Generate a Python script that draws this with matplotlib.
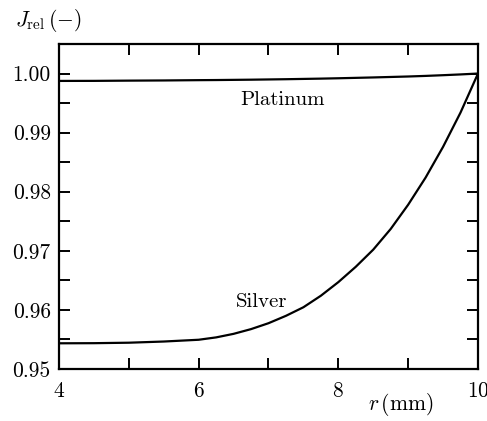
import matplotlib
matplotlib.use("Agg")
import matplotlib.pyplot as plt
from matplotlib.ticker import MultipleLocator, FormatStrFormatter

plt.rcParams["font.family"] = "serif"
plt.rcParams["font.serif"] = ["cmr10", "DejaVu Serif"]
plt.rcParams["mathtext.fontset"] = "cm"
plt.rcParams["axes.formatter.use_mathtext"] = True

# --- dados ---
r_mm = [4.0, 4.5, 5.0, 5.5, 6.0, 6.25, 6.5, 6.75, 7.0, 7.25, 7.5, 7.75,
        8.0, 8.25, 8.5, 8.75, 9.0, 9.25, 9.5, 9.75, 10.0]
silver = [0.95435, 0.95437, 0.95445, 0.95465, 0.95495, 0.95535, 0.95595, 0.95675,
          0.95775, 0.95900, 0.96045, 0.96240, 0.96470, 0.96730, 0.97020, 0.97370,
          0.97780, 0.98240, 0.98760, 0.99340, 1.00000]
platinum = [0.99875, 0.99876, 0.99880, 0.99883, 0.99888, 0.99890, 0.99893, 0.99896,
            0.99900, 0.99904, 0.99909, 0.99914, 0.99920, 0.99927, 0.99934, 0.99942,
            0.99950, 0.99960, 0.99972, 0.99985, 1.00000]

fig = plt.figure(figsize=(4.87, 4.21), dpi=100)
ax = fig.add_axes([0.1211, 0.1235, 0.8604, 0.772])

ax.plot(r_mm, platinum, color="black", lw=1.6)
ax.plot(r_mm, silver, color="black", lw=1.6)

ax.text(7.2, 0.99548, "Platinum", ha="center", va="center", fontsize=15)
ax.text(6.9, 0.96139, "Silver", ha="center", va="center", fontsize=15)

ax.set_xlim(4, 10)
ax.set_ylim(0.95, 1.005)
ax.xaxis.set_major_locator(MultipleLocator(2))
ax.xaxis.set_minor_locator(MultipleLocator(1))
ax.yaxis.set_major_locator(MultipleLocator(0.01))
ax.yaxis.set_minor_locator(MultipleLocator(0.005))
ax.yaxis.set_major_formatter(FormatStrFormatter("%.2f"))

ax.tick_params(which="both", direction="in", top=True, right=True,
               length=8, width=1.4, labelsize=15.5)
ax.tick_params(axis="x", pad=9)
ax.tick_params(axis="y", pad=6)
for s in ax.spines.values():
    s.set_linewidth(1.6)

fig.text(0.031, 0.952, r"$J_{\rm rel}\,(-)$", fontsize=15.5, ha="left", va="center")
ax.text(8.89, 0.9440, r"$r\,(\mathrm{mm})$", fontsize=15.5, ha="center", va="center")

fig.savefig("out.png", dpi=100)
